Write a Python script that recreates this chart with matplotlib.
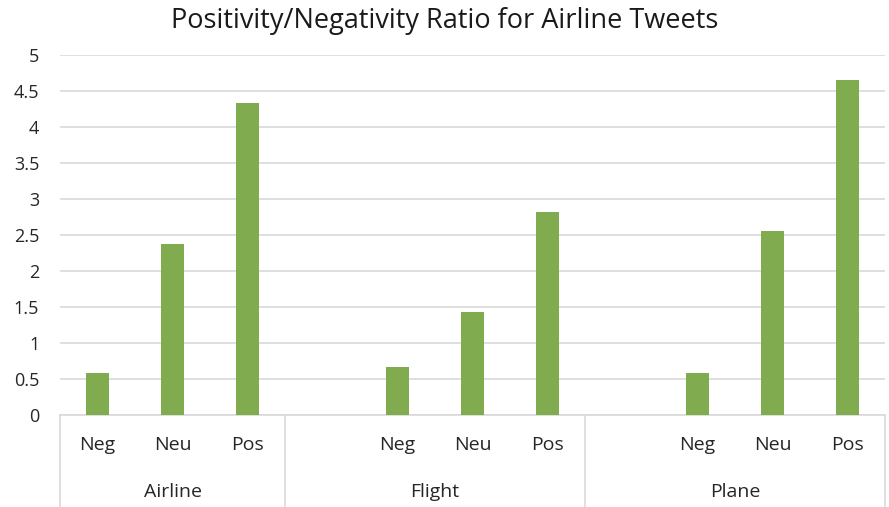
import numpy as np
import matplotlib.pyplot as plt
from matplotlib.transforms import blended_transform_factory

# tweet ratio per sentiment, grouped by keyword (blank slot = empty category)
groups = ["Airline", "Flight", "Plane"]
group_slots = [3, 4, 4]
slot_labels = ["Neg", "Neu", "Pos",
               "", "Neg", "Neu", "Pos",
               "", "Neg", "Neu", "Pos"]
ratios = [0.58, 2.37, 4.34,
          np.nan, 0.66, 1.43, 2.82,
          np.nan, 0.58, 2.56, 4.65]

plt.rcParams["font.family"] = ["Open Sans", "DejaVu Sans"]

fig = plt.figure(figsize=(8.89, 5.07), dpi=100)
ax = fig.add_axes([60 / 889, 92 / 507, 825 / 889, 360 / 507])

x = np.arange(len(slot_labels))
ax.bar(x, ratios, width=0.31, color="#80ab4e", zorder=3)

ax.set_xlim(-0.5, len(slot_labels) - 0.5)
ax.set_ylim(0, 5)
yticks = np.arange(0, 5.01, 0.5)
ax.set_yticks(yticks)
ax.set_yticklabels([f"{v:g}" for v in yticks])
ax.yaxis.grid(True, color="#d9d9d9", linewidth=1.2, zorder=0)
ax.tick_params(axis="y", length=0, pad=15, labelsize=13, labelcolor="#262626")
ax.tick_params(axis="x", length=0, pad=15, labelsize=14, labelcolor="#262626")
ax.set_xticks(x)
ax.set_xticklabels(slot_labels)
for side in ["top", "right", "left"]:
    ax.spines[side].set_visible(False)
ax.spines["bottom"].set_color("#d9d9d9")
ax.spines["bottom"].set_linewidth(1.2)

# group dividers and group names below the axis
trans = blended_transform_factory(ax.transData, ax.transAxes)
edges = np.concatenate([[0], np.cumsum(group_slots)]) - 0.5
for e in edges:
    ax.plot([e, e], [0, -0.26], transform=trans, color="#d9d9d9",
            linewidth=1.2, clip_on=False)
for name, lo, hi in zip(groups, edges[:-1], edges[1:]):
    ax.text((lo + hi) / 2, -0.215, name, transform=trans,
            ha="center", va="center", fontsize=14, color="#262626")

fig.text(0.5, 0.958, "Positivity/Negativity Ratio for Airline Tweets",
         ha="center", va="center", fontsize=19.5, color="#1a1a1a")

fig.savefig("out.png", dpi=100)
